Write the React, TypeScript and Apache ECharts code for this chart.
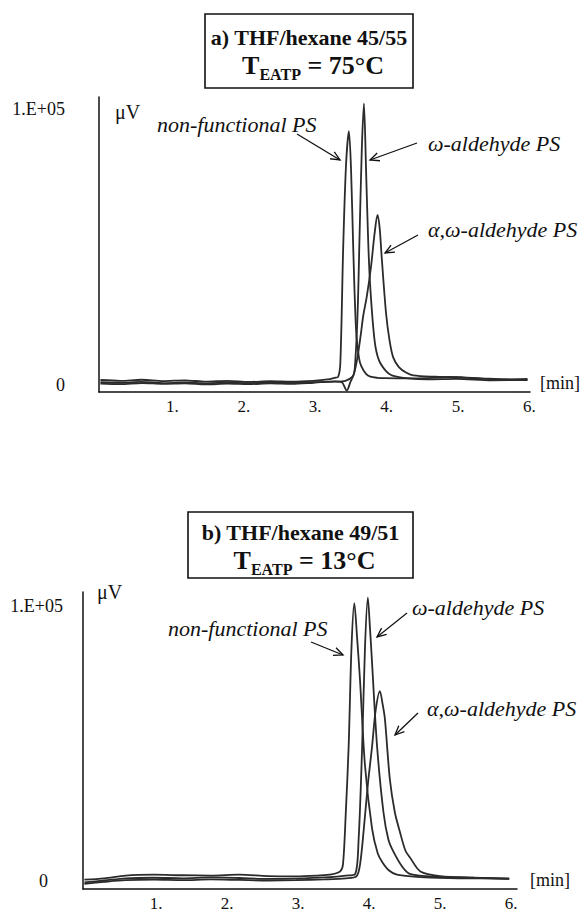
import React, { useEffect, useRef } from "react";
import * as echarts from "echarts";

// Retention time ticks [min] and signal ticks (×1000 µV)
const TIME_TICKS = [1, 2, 3, 4, 5, 6];
const SIGNAL_TICKS = [0, 100];

// Panel a) THF/hexane 45/55, T = 75°C  — [time min, signal k µV]
const A_NONFUNC: number[][] = [
  [0.02, 1.8], [0.3, 1.5], [0.6, 1.9], [0.9, 1.4], [1.2, 1.7], [1.5, 1.2], [1.8, 1.5], [2.1, 1.1],
  [2.4, 1.4], [2.7, 1.2], [3.0, 1.5], [3.2, 2.0], [3.3, 2.6], [3.35, 3.0], [3.38, 8], [3.42, 50],
  [3.46, 80], [3.5, 92], [3.53, 78], [3.56, 50], [3.6, 20], [3.64, 10], [3.67, 7], [3.74, 4],
  [3.8, 3], [3.9, 2.6], [4.0, 2.5], [4.3, 2.4], [4.6, 2.5], [4.9, 2.9], [5.1, 2.7], [5.4, 2.2],
  [5.7, 2.0], [6.0, 2.2],
];
const A_OMEGA: number[][] = [
  [0.02, 1.0], [0.3, 0.8], [0.6, 1.1], [0.9, 0.7], [1.2, 0.9], [1.5, 0.6], [1.8, 0.9], [2.1, 0.7],
  [2.4, 0.9], [2.7, 0.8], [3.0, 1.0], [3.3, 1.2], [3.45, 1.5], [3.55, 3], [3.58, 5.4], [3.62, 25],
  [3.65, 55], [3.68, 85], [3.71, 102], [3.74, 78], [3.77, 52], [3.8, 35], [3.86, 16], [3.92, 9],
  [4.02, 5], [4.1, 3.5], [4.3, 2.5], [4.6, 2.0], [5.0, 2.2], [5.5, 1.7], [6.0, 1.8],
];
const A_ALPHA_OMEGA: number[][] = [
  [0.02, 0.5], [0.3, 0.3], [0.6, 0.7], [0.9, 0.4], [1.2, 0.6], [1.5, 0.2], [1.8, 0.5], [2.1, 0.3],
  [2.4, 0.6], [2.7, 0.4], [3.0, 0.8], [3.3, 1.3], [3.4, 1.0], [3.47, -2.0], [3.52, 1], [3.57, 4],
  [3.62, 10], [3.67, 19], [3.7, 25], [3.75, 32], [3.81, 43], [3.86, 55], [3.9, 61.6], [3.93, 57],
  [3.96, 46], [4.02, 26], [4.07, 16], [4.12, 10], [4.2, 6.5], [4.3, 4.5], [4.4, 3.5], [4.7, 3.0],
  [5.0, 2.8], [5.3, 2.5], [5.7, 2.0], [6.0, 1.9],
];

// Panel b) THF/hexane 49/51, T = 13°C
const B_NONFUNC: number[][] = [
  [0.02, 0.5], [0.3, 1.0], [0.6, 2.0], [1.0, 2.3], [1.4, 2.1], [1.8, 2.0], [2.2, 2.3], [2.6, 1.8],
  [3.0, 1.7], [3.3, 2.0], [3.5, 2.4], [3.62, 3.5], [3.66, 6], [3.7, 25], [3.74, 49], [3.78, 85],
  [3.82, 101], [3.86, 88], [3.9, 73], [3.97, 42], [4.07, 19], [4.15, 10], [4.21, 7], [4.3, 4],
  [4.42, 2.3], [4.7, 1.5], [5.0, 1.2], [5.5, 1.0], [6.0, 1.0],
];
const B_OMEGA: number[][] = [
  [0.02, -0.5], [0.3, 0.2], [0.6, 1.0], [1.0, 1.2], [1.4, 1.0], [1.8, 1.3], [2.2, 1.1], [2.6, 0.8],
  [3.0, 0.9], [3.4, 1.3], [3.7, 2.0], [3.83, 2.5], [3.88, 15], [3.93, 49], [3.97, 85], [4.01, 103],
  [4.04, 92], [4.07, 79], [4.14, 49], [4.23, 25], [4.3, 15], [4.37, 10.7], [4.5, 5], [4.61, 2.5],
  [5.0, 1.5], [5.5, 1.2], [6.0, 0.8],
];
const B_ALPHA_OMEGA: number[][] = [
  [0.02, -1.0], [0.3, -0.3], [0.6, 0.3], [1.0, 0.5], [1.4, 0.3], [1.8, 0.6], [2.2, 0.4], [2.6, 0.2],
  [3.0, 0.3], [3.4, 0.6], [3.7, 1.0], [3.85, 1.7], [3.9, 6], [3.95, 18], [4.01, 35], [4.07, 49],
  [4.12, 62], [4.18, 69], [4.22, 64], [4.25, 59], [4.32, 37], [4.39, 25], [4.46, 18], [4.54, 11],
  [4.61, 8.3], [4.75, 3.5], [5.03, 1.8], [5.5, 1.2], [6.0, 0.8],
];

const LABELS = ["non-functional PS", "ω-aldehyde PS", "α,ω-aldehyde PS"];

const SERIF = "Liberation Serif";
const INK = "#111";

function arrow(x1: number, y1: number, x2: number, y2: number): any[] {
  const ang = Math.atan2(y2 - y1, x2 - x1);
  const len = 10;
  const spread = 0.42;
  const p1 = [x2 - len * Math.cos(ang - spread), y2 - len * Math.sin(ang - spread)];
  const p2 = [x2 - len * Math.cos(ang + spread), y2 - len * Math.sin(ang + spread)];
  return [
    { type: "line", shape: { x1, y1, x2, y2 }, style: { stroke: INK, lineWidth: 1.3 } },
    { type: "polyline", shape: { points: [p1, [x2, y2], p2] }, style: { stroke: INK, lineWidth: 1.3, fill: null } },
  ];
}

function annot(text: string, x: number, y: number): any {
  return {
    type: "text",
    x,
    y,
    style: {
      text,
      fontFamily: SERIF,
      fontStyle: "italic",
      fontSize: 22,
      fill: INK,
      align: "left",
      verticalAlign: "middle",
    },
  };
}

function titleBox(x: number, y: number, w: number, h: number, l1y: number, l2y: number, line1: string, temp: string): any[] {
  const cx = x + w / 2;
  return [
    { type: "rect", shape: { x, y, width: w, height: h }, style: { fill: "#fff", stroke: INK, lineWidth: 1.6 } },
    {
      type: "text",
      x: cx,
      y: l1y,
      style: { text: line1, fontFamily: SERIF, fontWeight: "bold", fontSize: 22, fill: INK, align: "center", verticalAlign: "middle" },
    },
    {
      type: "text",
      x: cx + 4,
      y: l2y,
      style: {
        text: "{t|T}{s|EATP}{t| = " + temp + "}",
        align: "center",
        verticalAlign: "middle",
        rich: {
          t: { fontFamily: SERIF, fontWeight: "bold", fontSize: 26, fill: INK, lineHeight: 30 },
          s: { fontFamily: SERIF, fontWeight: "bold", fontSize: 16, fill: INK, padding: [18, 0, 0, 0], lineHeight: 19 },
        },
      },
    },
  ];
}

function xAxisCfg(grid: number, max: number, nameGap: number): any {
  return {
    type: "value",
    gridIndex: grid,
    min: 0,
    max,
    axisLine: { show: true, onZero: false, lineStyle: { color: INK, width: 1.5 } },
    axisTick: { show: false },
    splitLine: { show: false },
    axisLabel: {
      customValues: TIME_TICKS,
      formatter: (v: number) => v + ".",
      margin: 6,
      fontFamily: SERIF,
      fontSize: 17,
      color: INK,
      padding: [0, 0, 0, 4],
    },
    name: "[min]",
    nameLocation: "end",
    nameGap,
    nameTextStyle: { fontFamily: SERIF, fontSize: 18, color: INK, verticalAlign: "bottom", align: "left" },
  };
}

function yAxisCfg(grid: number, min: number, max: number, topMargin: number, zeroPad: number, nameGap: number, namePadLeft: number): any {
  const base = { fontFamily: SERIF, fontSize: 18, color: INK };
  return {
    type: "value",
    gridIndex: grid,
    min,
    max,
    axisLine: { show: true, onZero: false, lineStyle: { color: INK, width: 1.5 } },
    axisTick: { show: false },
    splitLine: { show: false },
    axisLabel: {
      customValues: SIGNAL_TICKS,
      formatter: (v: number) => (v === 0 ? "{z|0}" : "{e|1.E+05}"),
      align: "right",
      margin: topMargin,
      rich: {
        z: { ...base, padding: [0, zeroPad, 0, 0] },
        e: { ...base },
      },
    },
    name: "μV",
    nameLocation: "end",
    nameGap,
    nameTextStyle: { fontFamily: SERIF, fontSize: 20, color: INK, align: "left", verticalAlign: "middle", padding: [0, 0, 0, namePadLeft] },
  };
}

function trace(data: number[][], idx: number, name: string): any {
  return {
    type: "line",
    name,
    xAxisIndex: idx,
    yAxisIndex: idx,
    data,
    showSymbol: false,
    smooth: 0.3,
    lineStyle: { color: "#2b2b2b", width: 1.8 },
    z: 3,
  };
}

export default function App() {
  const ref = useRef<HTMLDivElement>(null);
  useEffect(() => {
    if (!ref.current) return;
    const chart = echarts.init(ref.current, undefined, { renderer: "svg" });
    chart.setOption({
      animation: false,
      backgroundColor: "#fff",
      grid: [
        { left: 99, top: 97, width: 431, height: 295 },
        { left: 83, top: 592, width: 434, height: 299 },
      ],
      xAxis: [xAxisCfg(0, 6.036, 10), xAxisCfg(1, 6.11, 13)],
      yAxis: [
        yAxisCfg(0, -2.54, 104.35, 34, 0, -15, 16),
        yAxisCfg(1, -2.89, 105.05, 20, 15, 0, 14),
      ],
      series: [
        trace(A_NONFUNC, 0, LABELS[0]),
        trace(A_OMEGA, 0, LABELS[1]),
        trace(A_ALPHA_OMEGA, 0, LABELS[2]),
        trace(B_NONFUNC, 1, LABELS[0]),
        trace(B_OMEGA, 1, LABELS[1]),
        trace(B_ALPHA_OMEGA, 1, LABELS[2]),
      ],
      graphic: [
        ...titleBox(205, 14, 208, 74, 37, 65, "a) THF/hexane 45/55", "75°C"),
        ...titleBox(188, 512, 225, 66, 532, 560, "b) THF/hexane 49/51", "13°C"),
        annot(LABELS[0], 157, 124),
        annot(LABELS[1], 428, 143),
        annot(LABELS[2], 428, 229),
        ...arrow(297, 134, 340, 160),
        ...arrow(417, 143, 370, 160),
        ...arrow(418, 235, 385, 253),
        annot(LABELS[0], 168, 628),
        annot(LABELS[1], 412, 607),
        annot(LABELS[2], 427, 708),
        ...arrow(311, 642, 343, 655),
        ...arrow(407, 613, 377, 637),
        ...arrow(418, 713, 395, 735),
      ],
    });
    return () => chart.dispose();
  }, []);
  return <div ref={ref} style={{ position: "absolute", left: 0, top: 0, width: 584, height: 912 }} />;
}
